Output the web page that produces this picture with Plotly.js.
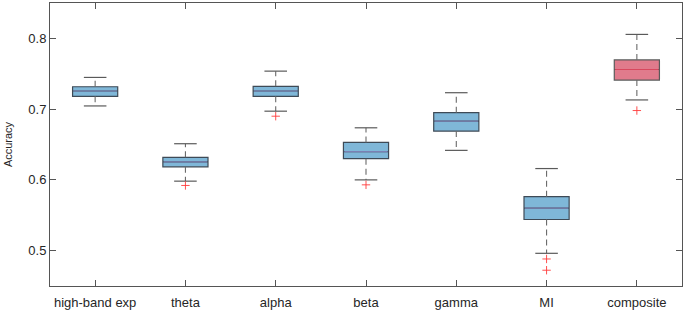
<!DOCTYPE html>
<html>
<head>
<meta charset="utf-8">
<script src="https://cdn.plot.ly/plotly-3.0.1.min.js"></script>
<style>html,body{margin:0;padding:0;background:#fff;}#chart{width:685px;height:310px;}</style>
</head>
<body>
<div id="chart"></div>
<script>
const categories = ['high-band exp','theta','alpha','beta','gamma','MI','composite'];
const q1Vals     = [0.7181, 0.6184, 0.7181, 0.6300, 0.6690, 0.5440, 0.7410];
const medianVals = [0.7256, 0.6254, 0.7256, 0.6400, 0.6830, 0.5600, 0.7560];
const q3Vals     = [0.7316, 0.6319, 0.7322, 0.6530, 0.6950, 0.5763, 0.7695];
const lowerWhisk = [0.7045, 0.5982, 0.6971, 0.6000, 0.6417, 0.4962, 0.7130];
const upperWhisk = [0.7448, 0.6511, 0.7537, 0.6736, 0.7232, 0.6160, 0.8056];
const outlierCat = [1, 2, 3, 5, 5, 6];
const outlierVals = [0.5921, 0.6900, 0.5930, 0.4882, 0.4723, 0.6980];

const pos = categories.map((c, i) => i);
const boxW = 0.5, capHalf = 0.125;

const wx = [], wy = [];
const cx = [], cy = [];
pos.forEach(i => {
  wx.push(i, i, null, i, i, null);
  wy.push(q3Vals[i], upperWhisk[i], null, q1Vals[i], lowerWhisk[i], null);
  cx.push(i - capHalf, i + capHalf, null, i - capHalf, i + capHalf, null);
  cy.push(upperWhisk[i], upperWhisk[i], null, lowerWhisk[i], lowerWhisk[i], null);
});

const blueIdx = [0,1,2,3,4,5], redIdx = [6];
function boxTrace(idx, fill, lineCol) {
  return {
    type: 'box',
    x: idx.map(i => pos[i]),
    q1: idx.map(i => q1Vals[i]),
    median: idx.map(i => medianVals[i]),
    q3: idx.map(i => q3Vals[i]),
    lowerfence: idx.map(i => q1Vals[i]),
    upperfence: idx.map(i => q3Vals[i]),
    width: boxW,
    whiskerwidth: 0,
    fillcolor: fill,
    line: {color: lineCol, width: 1.2},
    boxpoints: false,
    hoverinfo: 'skip',
    showlegend: false
  };
}
function medTrace(idx, col) {
  const mx = [], my = [];
  idx.forEach(i => {
    mx.push(pos[i] - boxW/2 + 0.01, pos[i] + boxW/2 - 0.01, null);
    my.push(medianVals[i], medianVals[i], null);
  });
  return {type:'scatter', mode:'lines', x: mx, y: my, line:{color: col, width: 1.2}, hoverinfo:'skip', showlegend:false};
}

const traces = [
  {type:'scatter', mode:'lines', x: wx, y: wy, line:{color:'#6a6a6a', width:1.1, dash:'6px,4px'}, hoverinfo:'skip', showlegend:false},
  {type:'scatter', mode:'lines', x: cx, y: cy, line:{color:'#5a5a5a', width:1.2}, hoverinfo:'skip', showlegend:false},
  boxTrace(blueIdx, '#7fb7d8', '#3e4a56'),
  boxTrace(redIdx, '#e07b8c', '#5a5a5a'),
  medTrace(blueIdx, '#7b80b3'),
  medTrace(redIdx, '#d8475e'),
  {type:'scatter', mode:'markers', x: outlierCat, y: outlierVals,
   marker:{symbol:'cross-thin-open', size:6, color:'#ff3b3b', line:{color:'#ff3b3b', width:0.9}}, hoverinfo:'skip', showlegend:false}
];

const axisCommon = {
  showline: true, linecolor: '#555', linewidth: 1, mirror: 'ticks',
  ticks: 'inside', ticklen: 6, tickcolor: '#555', tickwidth: 1,
  showgrid: false, zeroline: false,
  tickfont: {family: 'Liberation Sans, Arial, sans-serif', size: 13, color: '#262626'}
};

const layout = {
  width: 685, height: 310,
  margin: {l: 50, r: 3, t: 3, b: 24},
  paper_bgcolor: '#fff', plot_bgcolor: '#fff',
  showlegend: false,
  xaxis: Object.assign({}, axisCommon, {
    range: [-0.5, 6.5], tickvals: pos, ticktext: categories, ticklabelstandoff: 4
  }),
  yaxis: Object.assign({}, axisCommon, {
    range: [0.45, 0.85], tickvals: [0.5, 0.6, 0.7, 0.8], ticktext: ['0.5','0.6','0.7','0.8'],
    title: {text: 'Accuracy', font: {family: 'Liberation Sans, Arial, sans-serif', size: 11, color: '#262626'}, standoff: 13}
  })
};

Plotly.newPlot('chart', traces, layout, {displayModeBar: false, staticPlot: true});
</script>
</body>
</html>
